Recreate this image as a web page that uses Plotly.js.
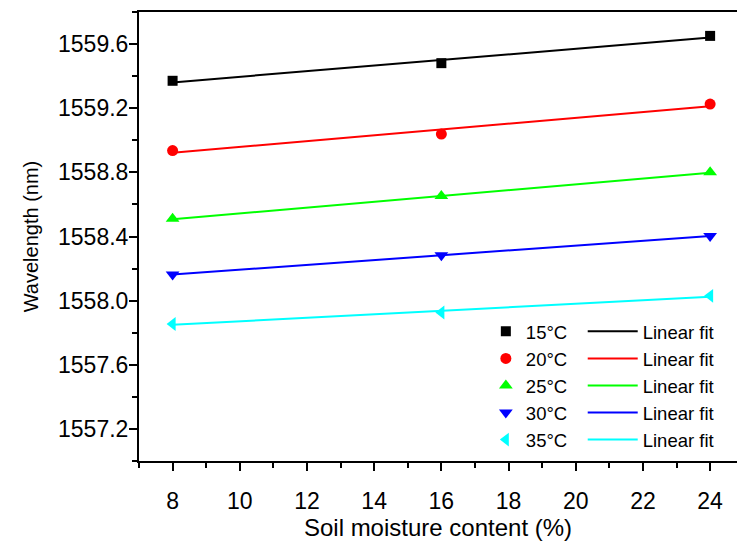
<!DOCTYPE html>
<html>
<head>
<meta charset="utf-8">
<script src="https://cdn.plot.ly/plotly-3.0.1.min.js"></script>
<style>html,body{margin:0;padding:0;background:#fff;overflow:hidden;}</style>
</head>
<body>
<div id="chart" style="width:737px;height:541px;"></div>
<script>
// Data
const moisture = [8, 16, 24];
const seriesNames = ["15°C", "20°C", "25°C", "30°C", "35°C"];
const wl15 = [1559.371, 1559.481, 1559.651];
const wl20 = [1558.936, 1559.039, 1559.226];
const wl25 = [1558.510, 1558.652, 1558.800];
const wl30 = [1558.163, 1558.283, 1558.403];
const wl35 = [1557.854, 1557.926, 1558.030];
// Linear fit lines as drawn (values at x = 8 and x = 24)
const fitX = [8, 24];
const fit15 = [1559.361, 1559.641];
const fit20 = [1558.922, 1559.212];
const fit25 = [1558.508, 1558.798];
const fit30 = [1558.163, 1558.403];
const fit35 = [1557.849, 1558.025];

const colors = ["#000000", "#ff0000", "#00ff00", "#0000ff", "#00ffff"];
const symbols = ["square", "circle", "triangle-up", "triangle-down", "triangle-left"];
const sizes = [10, 11, 12, 12, 12];
const values = [wl15, wl20, wl25, wl30, wl35];
const fits = [fit15, fit20, fit25, fit30, fit35];

const FONT = "'Liberation Sans', Arial, sans-serif";
const traces = [];
for (let i = 0; i < 5; i++) {
  traces.push({
    x: fitX, y: fits[i], mode: "lines", name: "Linear fit",
    line: {color: colors[i], width: 2}, legend: "legend2", showlegend: true
  });
}
for (let i = 0; i < 5; i++) {
  traces.push({
    x: moisture, y: values[i], mode: "markers", name: seriesNames[i],
    marker: {color: colors[i], symbol: symbols[i], size: sizes[i]},
    legend: "legend", showlegend: true
  });
}

const layout = {
  width: 737, height: 541,
  margin: {l: 139, r: 0, t: 12, b: 80},
  paper_bgcolor: "#ffffff", plot_bgcolor: "#ffffff",
  font: {family: FONT, size: 22, color: "#000"},
  showlegend: true,
  xaxis: {
    range: [7, 24.8], dtick: 2, tick0: 8,
    showline: true, linecolor: "#000", linewidth: 2, mirror: true,
    ticks: "outside", ticklen: 8, tickwidth: 2, tickcolor: "#000",
    ticklabelstandoff: 10,
    minor: {dtick: 1, tick0: 7, ticks: "outside", ticklen: 5, tickwidth: 2, tickcolor: "#000"},
    showgrid: false, zeroline: false,
    tickfont: {family: FONT, size: 23, color: "#000"},
    title: {text: "Soil moisture content (%)", font: {family: FONT, size: 24, color: "#000"}, standoff: 4}
  },
  yaxis: {
    range: [1557.0, 1559.8], dtick: 0.4, tick0: 1557.2, tickformat: ".1f",
    showline: true, linecolor: "#000", linewidth: 2, mirror: false,
    ticks: "outside", ticklen: 8, tickwidth: 2, tickcolor: "#000",
    ticklabelstandoff: -4,
    minor: {dtick: 0.2, tick0: 1557.0, ticks: "outside", ticklen: 5, tickwidth: 2, tickcolor: "#000"},
    showgrid: false, zeroline: false,
    tickfont: {family: FONT, size: 23, color: "#000"},
    title: {text: "Wavelength (nm)", font: {family: FONT, size: 20, color: "#000"}, standoff: 14}
  },
  legend: {
    x: 0.58, y: 0.33, xanchor: "left", yanchor: "top",
    bgcolor: "rgba(0,0,0,0)", borderwidth: 0, tracegroupgap: 0,
    font: {family: FONT, size: 18.5, color: "#000"}, traceorder: "normal"
  },
  legend2: {
    x: 0.742, y: 0.33, xanchor: "left", yanchor: "top",
    bgcolor: "rgba(0,0,0,0)", borderwidth: 0, tracegroupgap: 0, itemwidth: 50,
    font: {family: FONT, size: 18.5, color: "#000"}, traceorder: "normal"
  }
};

Plotly.newPlot("chart", traces, layout, {displayModeBar: false, staticPlot: true});
</script>
</body>
</html>
